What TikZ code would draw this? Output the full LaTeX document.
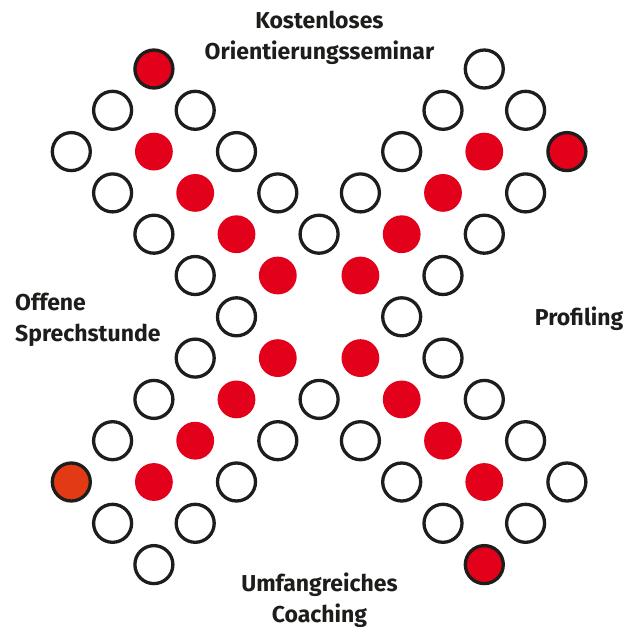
\documentclass[tikz,border=0pt]{standalone}
\usepackage{fontspec}
\setmainfont{Fira Sans}
\usepackage{xcolor}
\usepackage{tikz}
\usetikzlibrary{positioning}
\definecolor{kred}{HTML}{E2001A}
\definecolor{korange}{HTML}{E33A16}
\definecolor{kink}{HTML}{1D1D1B}

\begin{document}
\begin{tikzpicture}[
      x=1pt, y=-1pt,
      ring/.style={circle, draw=kink, line width=3.3pt, fill=white, minimum size=38pt, inner sep=0pt},
      spot/.style={circle, fill=kred, minimum size=37.8pt, inner sep=0pt},
      endspot/.style={ring, fill=#1},
      txt/.style={font=\fontsize{23}{30.5}\selectfont\bfseries, text=kink, inner sep=0pt}
    ]
      \useasboundingbox (0,0) rectangle (627,627);

      \foreach \j/\k in {10/0, 1/1,3/1,9/1,11/1, 0/2,4/2,8/2, 1/3,5/3,7/3,11/3, 2/4,6/4,10/4,
                         3/5,9/5, 4/6,8/6, 3/7,9/7, 2/8,6/8,10/8, 1/9,5/9,7/9,11/9,
                         4/10,8/10,12/10, 1/11,3/11,9/11,11/11, 2/12}
        \node [ring] (d-\j-\k) at ({71.3+41.3*\j},{69+41.3*\k}) {};

      \foreach \j/\k in {2/2,10/2,3/3,9/3,4/4,8/4,5/5,7/5,5/7,7/7,4/8,8/8,3/9,9/9,2/10,10/10}
        \node [spot] (d-\j-\k) at ({71.3+41.3*\j},{69+41.3*\k}) {};

      \foreach \j/\k/\c in {2/0/kred, 12/2/kred, 10/12/kred, 0/10/korange}
        \node [endspot=\c] (d-\j-\k) at ({71.3+41.3*\j},{69+41.3*\k}) {};

      \node [txt, align=center, anchor=base] (seminar) at (319.5,59.3) {Kostenloses\\Orientierungsseminar};
      \node [txt, align=left, anchor=base west] (sprechstunde) at (15,341) {Offene\\Sprechstunde};
      \node [txt, anchor=base west] (profiling) at (534.7,325.3) {Profiling};
      \node [txt, align=center, anchor=base] (coaching) at (319.5,622) {Umfangreiches\\Coaching};
    \end{tikzpicture}
\end{document}
